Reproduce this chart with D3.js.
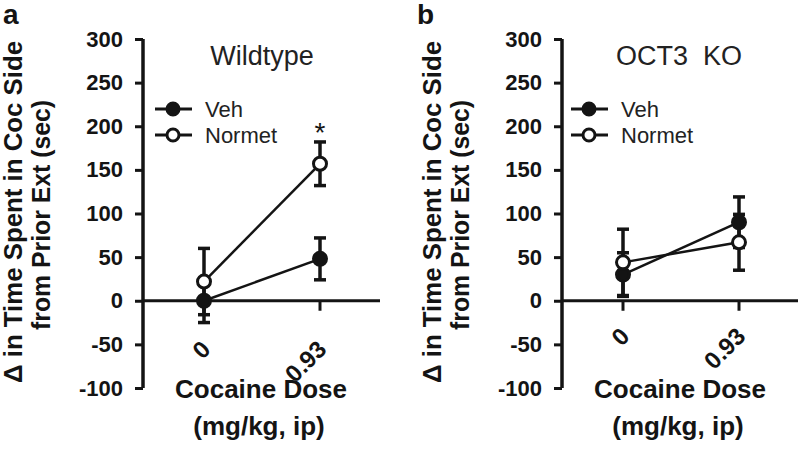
<!DOCTYPE html>
<html>
<head>
<meta charset="utf-8">
<script src="https://cdn.jsdelivr.net/npm/d3@7"></script>
<style>
  body { margin: 0; background: #fff; }
  svg { display: block; font-family: Arial, "Liberation Sans", sans-serif; }
</style>
</head>
<body>
<div id="wrapper"></div>
<script>
// data
const doses = ["0", "0.93"]
const yTicks = [-100, -50, 0, 50, 100, 150, 200, 250, 300]
const seriesNames = ["Veh", "Normet"]
const panelTitles = ["Wildtype", "OCT3  KO"]
const panelLetters = ["a", "b"]

const wtVeh = [0, 48]
const wtVehErr = [25, 24]
const wtNormet = [22, 157]
const wtNormetErr = [38, 25]

const koVeh = [30, 90]
const koVehErr = [25, 29]
const koNormet = [44, 67]
const koNormetErr = [38, 32]

const panels = [
  {veh: wtVeh, vehErr: wtVehErr, normet: wtNormet, normetErr: wtNormetErr, star: [1]},
  {veh: koVeh, vehErr: koVehErr, normet: koNormet, normetErr: koNormetErr, star: []}
]

const width = 798, height = 466
const svg = d3.select('#wrapper').append('svg')
  .attr('width', width)
  .attr('height', height)

const ink = '#141414'

const drawPanel = (p, i) => {
  const ox = i === 0 ? 0 : 419   // panel offset
  const axisX = 143
  const g = svg.append('g').attr('transform', `translate(${ox},0)`)

  const yScale = d3.scaleLinear().domain([-100, 300]).range([388, 39])
  const xScale = d3.scalePoint().domain(doses).range([204, 320])
  const xEnd = i === 0 ? 380 : 379
  const labelDrop = i === 0 ? 50 : 37

  // y axis
  const yAxis = d3.axisLeft(yScale).tickValues(yTicks)
    .tickFormat(d => String(d)).tickSize(8).tickPadding(12)
  const ya = g.append('g').attr('transform', `translate(${axisX},0)`).call(yAxis)
  ya.select('.domain').attr('stroke', ink).attr('stroke-width', 3.5)
    .attr('d', `M0,${yScale(-100)}V${yScale(300)}`)
  ya.selectAll('.tick line').attr('stroke', ink).attr('stroke-width', 3)
  ya.selectAll('.tick text')
    .attr('fill', ink).style('font-size', '22px').style('font-weight', 'bold')
    .style('font-family', 'Arial, "Liberation Sans", sans-serif')

  // x axis at zero
  const y0 = yScale(0)
  g.append('line').attr('x1', axisX).attr('x2', xEnd)
    .attr('y1', y0).attr('y2', y0)
    .attr('stroke', ink).attr('stroke-width', 3)
  doses.forEach(d => {
    g.append('line').attr('x1', xScale(d)).attr('x2', xScale(d))
      .attr('y1', y0).attr('y2', y0 + 10)
      .attr('stroke', ink).attr('stroke-width', 3)
    g.append('text')
      .attr('transform', `translate(${xScale(d) + 8},${y0 + labelDrop}) rotate(-45)`)
      .attr('text-anchor', 'end')
      .style('font-size', '24px').style('font-weight', 'bold')
      .attr('fill', ink)
      .text(d)
  })

  // axis titles
  const yt = g.append('text')
    .attr('transform', `translate(0,212) rotate(-90)`)
    .attr('text-anchor', 'middle')
    .style('font-size', '25px').style('font-weight', 'bold').attr('fill', ink)
  yt.append('tspan').attr('x', 0).attr('y', 22)
    .attr('textLength', 342).attr('lengthAdjust', 'spacingAndGlyphs')
    .text('Δ in Time Spent in Coc Side')
  yt.append('tspan').attr('x', -3).attr('y', 50)
    .attr('textLength', 230).attr('lengthAdjust', 'spacingAndGlyphs')
    .text('from Prior Ext (sec)')

  g.append('text').attr('x', 261).attr('y', 398)
    .attr('text-anchor', 'middle')
    .style('font-size', '26px').style('font-weight', 'bold').attr('fill', ink)
    .text('Cocaine Dose')
  g.append('text').attr('x', 259).attr('y', 435)
    .attr('text-anchor', 'middle')
    .style('font-size', '26px').style('font-weight', 'bold').attr('fill', ink)
    .text('(mg/kg, ip)')

  // panel letter and title
  g.append('text').attr('x', i === 0 ? 3 : -2).attr('y', 24)
    .style('font-size', '28px').style('font-weight', 'bold').attr('fill', ink)
    .text(panelLetters[i])
  g.append('text').attr('x', i === 0 ? 262 : 260).attr('y', 65)
    .attr('text-anchor', 'middle')
    .style('font-size', '27px').style('white-space', 'pre').attr('fill', '#222')
    .text(panelTitles[i])

  // series
  const series = [
    {vals: p.veh, err: p.vehErr, fill: ink},
    {vals: p.normet, err: p.normetErr, fill: '#fff'}
  ]
  const line = d3.line().x((d, j) => xScale(doses[j])).y(d => yScale(d))

  series.forEach(s => {
    g.append('path').attr('d', line(s.vals))
      .attr('fill', 'none').attr('stroke', ink).attr('stroke-width', 2.5)
  })
  series.forEach(s => {
    s.vals.forEach((v, j) => {
      const x = xScale(doses[j])
      const top = yScale(v + s.err[j]), bot = yScale(v - s.err[j])
      g.append('line').attr('x1', x).attr('x2', x).attr('y1', top).attr('y2', bot)
        .attr('stroke', ink).attr('stroke-width', 3.5)
      ;[top, bot].forEach(yy => {
        g.append('line').attr('x1', x - 6).attr('x2', x + 6).attr('y1', yy).attr('y2', yy)
          .attr('stroke', ink).attr('stroke-width', 3.5)
      })
    })
  })
  series.forEach(s => {
    s.vals.forEach((v, j) => {
      g.append('circle').attr('cx', xScale(doses[j])).attr('cy', yScale(v))
        .attr('r', 6.5).attr('fill', s.fill).attr('stroke', ink).attr('stroke-width', 3)
    })
  })

  // significance
  p.star.forEach(j => {
    g.append('text').attr('x', xScale(doses[j])).attr('y', 142)
      .attr('text-anchor', 'middle')
      .style('font-size', '28px').attr('fill', ink).text('*')
  })

  // legend
  const lx = i === 0 ? 155 : 152
  seriesNames.forEach((name, k) => {
    const ly = 109 + k * 26
    g.append('line').attr('x1', lx).attr('x2', lx + 37).attr('y1', ly).attr('y2', ly)
      .attr('stroke', ink).attr('stroke-width', 3)
    g.append('circle').attr('cx', lx + 18).attr('cy', ly).attr('r', 6)
      .attr('fill', series[k].fill).attr('stroke', ink).attr('stroke-width', 3)
    g.append('text').attr('x', lx + 50).attr('y', ly + 8)
      .style('font-size', '22px').attr('fill', '#222').text(name)
  })
}

panels.forEach(drawPanel)
</script>
</body>
</html>
